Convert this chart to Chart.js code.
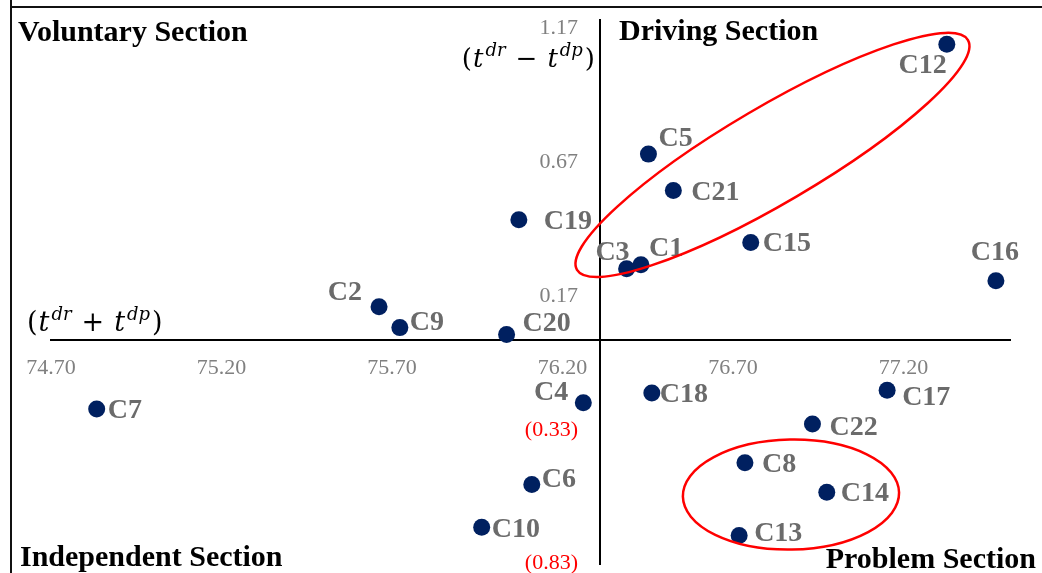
<!DOCTYPE html>
<html>
<head>
<meta charset="utf-8">
<script src="https://cdn.jsdelivr.net/npm/chart.js@4/dist/chart.umd.min.js"></script>
<style>
  html, body { margin: 0; padding: 0; background: #fff; }
  #wrap { width: 1042px; height: 573px; }
</style>
</head>
<body>
<div id="wrap"><canvas id="quad" width="1042" height="573"></canvas></div>
<script>
// ---- data ----
const names   = ['C1','C2','C3','C4','C5','C6','C7','C8','C9','C10','C12','C13','C14','C15','C16','C17','C18','C19','C20','C21','C22'];
const sumVals = [76.430,75.662,76.388,76.261,76.452,76.110,74.834,76.735,75.723,75.963,77.327,76.718,76.975,76.752,77.471,77.152,76.462,76.072,76.036,76.525,76.933];
const difVals = [0.282,0.125,0.267,-0.234,0.695,-0.539,-0.257,-0.458,0.047,-0.699,1.105,-0.729,-0.568,0.365,0.222,-0.187,-0.197,0.450,0.021,0.559,-0.313];

const xTicks = [74.70, 75.20, 75.70, 76.20, 76.70, 77.20];
const yTicks = [1.17, 0.67, 0.17, -0.33, -0.83];
const xCross = 76.31;   // where the vertical axis sits
const yCross = 0;       // where the horizontal axis sits

// ellipses: major-axis tips in data units
const groupDriving = [[76.2425, 0.263], [77.389, 1.121]];
const groupProblem = [[76.553, -0.584], [77.187, -0.569]];

// ---- styling ----
const NAVY = '#002060';
const RED = '#ff0000';
const GREY_TICK = '#808080';
const GREY_LABEL = '#6b6b6b';
const SERIF = '"Liberation Serif", "Times New Roman", serif';
const MATH = '"DejaVu Serif", serif';

// label placement per point: [align, dx, dy]
const labelPos = {
  C1: ['left', 8, -18],  C2: ['right', -17, -16], C3: ['right', 3, -18], C4: ['right', -15, -12],
  C5: ['left', 10, -17], C6: ['left', 10, -7],    C7: ['left', 11, 0],   C8: ['left', 17, 0],
  C9: ['left', 10, -7],  C10: ['left', 10, 1],    C12: ['right', 0, 20], C13: ['left', 15, -3],
  C14: ['left', 14, 0],  C15: ['left', 12, 0],    C16: ['center', -1, -30], C17: ['left', 15, 6],
  C18: ['left', 8, 0],   C19: ['left', 25, 0],    C20: ['left', 16, -13], C21: ['left', 18, 0],
  C22: ['left', 17, 2]
};

const points = names.map((n, i) => ({x: sumVals[i], y: difVals[i]}));

// draw "(t^dr op t^dp)" like an equation-editor object
function drawMath(ctx, x, y, op, align, size) {
  const parts = [['(', 'n', 1], ['t', 'i', 2], ['dr', 's', 10], [op, 'n', 10], ['t', 'i', 2], ['dp', 's', 2], [')', 'n', 0]];
  const sup = Math.round(size * 0.68);
  const fontFor = k => k === 'n' ? size + 'px ' + MATH : (k === 'i' ? 'italic ' + size + 'px ' + MATH : 'italic ' + sup + 'px ' + MATH);
  let total = 0;
  parts.forEach(p => { ctx.font = fontFor(p[1]); total += ctx.measureText(p[0]).width + p[2]; });
  let cx = align === 'right' ? x - total : x;
  ctx.fillStyle = '#000';
  ctx.textAlign = 'left';
  ctx.textBaseline = 'alphabetic';
  parts.forEach(p => {
    ctx.font = fontFor(p[1]);
    ctx.fillText(p[0], cx, p[1] === 's' ? y - size * 0.42 : y);
    cx += ctx.measureText(p[0]).width + p[2];
  });
}

function drawEllipse(ctx, xs, ys, tips, semiMinor) {
  const x1 = xs.getPixelForValue(tips[0][0]), y1 = ys.getPixelForValue(tips[0][1]);
  const x2 = xs.getPixelForValue(tips[1][0]), y2 = ys.getPixelForValue(tips[1][1]);
  const cx = (x1 + x2) / 2, cy = (y1 + y2) / 2;
  const a = Math.hypot(x2 - x1, y2 - y1) / 2;
  const rot = Math.atan2(y2 - y1, x2 - x1);
  ctx.beginPath();
  ctx.ellipse(cx, cy, a, semiMinor, rot, 0, Math.PI * 2);
  ctx.strokeStyle = RED;
  ctx.lineWidth = 2.5;
  ctx.stroke();
}

const decor = {
  id: 'decor',
  beforeDraw(chart) {
    const ctx = chart.ctx;
    ctx.save();
    ctx.strokeStyle = '#111';
    ctx.lineWidth = 2;
    ctx.beginPath();
    ctx.moveTo(10, 7); ctx.lineTo(1042, 7);
    ctx.moveTo(11, 0); ctx.lineTo(11, 573);
    ctx.stroke();
    ctx.restore();
  },
  afterDraw(chart) {
    const ctx = chart.ctx;
    const xs = chart.scales.x, ys = chart.scales.y;
    const area = chart.chartArea;
    const axX = xs.getPixelForValue(xCross);
    const axY = ys.getPixelForValue(yCross);
    ctx.save();

    // y tick labels (negatives in brackets, red)
    ctx.font = '22px ' + SERIF;
    ctx.textAlign = 'right';
    ctx.textBaseline = 'alphabetic';
    ys.ticks.forEach(t => {
      const v = t.value;
      ctx.fillStyle = v < 0 ? RED : GREY_TICK;
      const txt = v < 0 ? '(' + Math.abs(v).toFixed(2) + ')' : v.toFixed(2);
      ctx.fillText(txt, axX - 22, ys.getPixelForValue(v) + 7);
    });

    // axis titles
    drawMath(ctx, axX - 5, area.top + 47, '\u2212', 'right', 26);
    drawMath(ctx, area.left - 24, axY - 9, '+', 'left', 27);

    // quadrant titles
    ctx.font = 'bold 30px ' + SERIF;
    ctx.fillStyle = '#000';
    ctx.textAlign = 'left';
    ctx.fillText('Voluntary Section', 18, 41);
    ctx.fillText('Driving Section', axX + 19, 40);
    ctx.fillText('Independent Section', 20, 566);
    ctx.textAlign = 'right';
    ctx.fillText('Problem Section', 1036, 568);

    // point labels
    ctx.font = 'bold 28px ' + SERIF;
    ctx.fillStyle = GREY_LABEL;
    const meta = chart.getDatasetMeta(0);
    meta.data.forEach((el, i) => {
      const lp = labelPos[names[i]];
      ctx.textAlign = lp[0];
      ctx.fillText(names[i], el.x + lp[1], el.y + lp[2] + 9);
    });

    // groups
    drawEllipse(ctx, xs, ys, groupDriving, 48);
    drawEllipse(ctx, xs, ys, groupProblem, 55);
    ctx.restore();
  }
};

new Chart(document.getElementById('quad').getContext('2d'), {
  type: 'scatter',
  data: {
    datasets: [{
      label: 'Criteria',
      data: points,
      backgroundColor: NAVY,
      borderWidth: 0,
      pointRadius: 8.5,
      pointHoverRadius: 8.5,
      clip: false
    }]
  },
  options: {
    responsive: false,
    animation: false,
    events: [],
    layout: { padding: { left: 51, right: 32, top: 20, bottom: 8 } },
    plugins: { legend: { display: false }, tooltip: { enabled: false } },
    scales: {
      x: {
        type: 'linear',
        position: { y: yCross },
        min: 74.70,
        max: 77.5123,
        afterBuildTicks: s => { s.ticks = xTicks.map(v => ({value: v})); },
        grid: { display: false, drawTicks: false, tickLength: 0 },
        border: { display: true, color: '#000', width: 2 },
        ticks: {
          autoSkip: false,
          maxRotation: 0,
          padding: 15,
          color: GREY_TICK,
          font: { family: SERIF, size: 22 },
          callback: v => Number(v).toFixed(2)
        }
      },
      y: {
        type: 'linear',
        position: { x: xCross },
        min: -0.8377,
        max: 1.1959,
        afterBuildTicks: s => { s.ticks = yTicks.map(v => ({value: v})); },
        grid: { display: false, drawTicks: false, tickLength: 0 },
        border: { display: true, color: '#000', width: 2 },
        ticks: { display: false }
      }
    }
  },
  plugins: [decor]
});
</script>
</body>
</html>
